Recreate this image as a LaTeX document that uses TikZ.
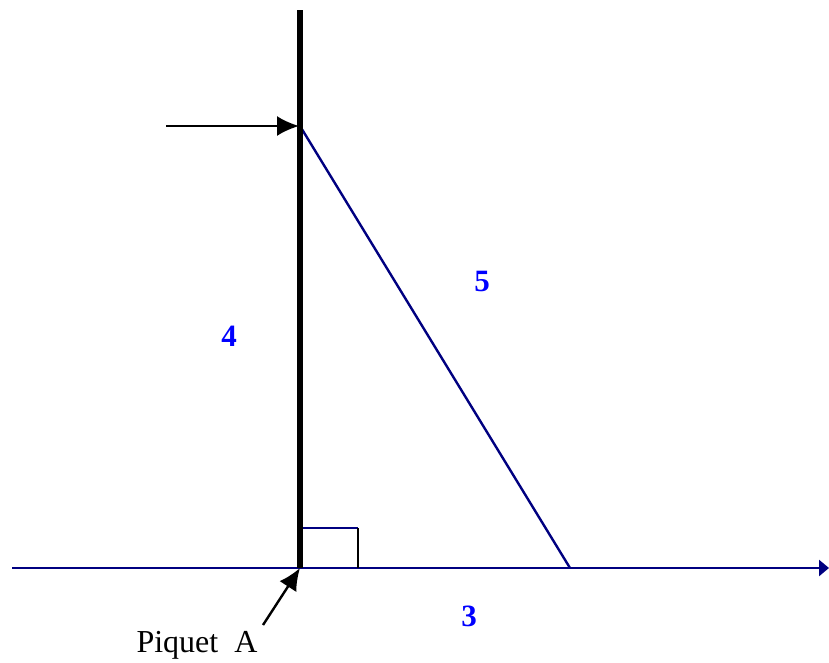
\documentclass[tikz,border=0pt]{standalone}
\usepackage{fontspec}
\setmainfont{Liberation Serif}
\usetikzlibrary{arrows.meta}
\definecolor{navy}{RGB}{0,0,128}
\definecolor{lblue}{RGB}{0,0,255}
\begin{document}
\begin{tikzpicture}[x=1pt,y=-1pt,
  num/.style={text=lblue,font=\fontsize{31}{33}\selectfont\bfseries,inner sep=0pt},
  plain/.style={font=\fontsize{32}{34}\selectfont,inner sep=0pt},
  navyline/.style={draw=navy,line width=2.4pt},
  blackarrow/.style={draw=black,line width=2.4pt,-{Latex[length=22pt,width=20pt]}}]
\useasboundingbox (0,0) rectangle (829,662);
\coordinate (top) at (300,10);
\coordinate (T) at (300,126);
\coordinate (A) at (300,568);
\coordinate (B) at (570,568);
\coordinate (L) at (12,568);
\coordinate (R) at (829,568);
\coordinate (S) at (166,126);
\coordinate (P1) at (263,625);
\coordinate (Q1) at (300,528);
\coordinate (Q2) at (358,528);
\coordinate (Q3) at (358,568);
% axis
\draw[navyline,-{Triangle[length=10pt,width=16pt]}] (L) -- (R);
% right-angle square
\draw[navy,line width=1.8pt] (Q1) -- (Q2);
\draw[black,line width=1.8pt] (Q2) -- (Q3);
% hypotenuse
\draw[navyline] (T) -- (B);
% vertical post
\draw[black,line width=5.5pt] (top) -- (A);
% arrows
\draw[blackarrow] (S) -- ([xshift=-1pt]T);
\draw[blackarrow] (P1) -- (A);
% labels
\node[num] (n4) at (229,336) {4};
\node[num] (n5) at (482,281) {5};
\node[num] (n3) at (469,616) {3};
\node[plain] (pa) at (197,645) {Piquet\ \ A};
\end{tikzpicture}
\end{document}
